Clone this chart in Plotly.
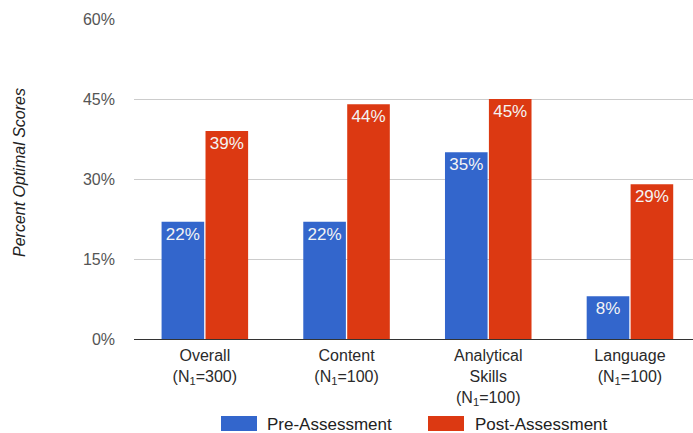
import plotly.graph_objects as go

# Chart data
categories = [
    "Overall<br>(N<sub>1</sub>=300)",
    "Content<br>(N<sub>1</sub>=100)",
    "Analytical<br>Skills<br>(N<sub>1</sub>=100)",
    "Language<br>(N<sub>1</sub>=100)",
]
pre_assessment = [22, 22, 35, 8]
post_assessment = [39, 44, 45, 29]
y_ticks = [0, 15, 30, 45, 60]
y_tick_labels = ["0%", "15%", "30%", "45%", "60%"]
series_names = ["Pre-Assessment", "Post-Assessment"]
y_title = "Percent Optimal Scores"

BLUE = "#3366CC"
RED = "#DC3912"
FONT = "Liberation Sans, Arial, sans-serif"

W, H = 693, 433
ML, MR, MT, MB = 134, 0, 19, 94
PW, PH = W - ML - MR, H - MT - MB


def px_x(x):
    return (x - ML) / PW


def px_y(y):
    return (H - MB - y) / PH


fig = go.Figure()
for name, vals, color in zip(series_names, [pre_assessment, post_assessment], [BLUE, RED]):
    fig.add_trace(go.Bar(
        name=name,
        x=list(range(len(categories))),
        y=vals,
        marker=dict(color=color, line=dict(width=0)),
        text=[f"{v}%" for v in vals],
        textposition="inside",
        insidetextanchor="end",
        textangle=0,
        constraintext="none",
        textfont=dict(family=FONT, size=17, color="#f4f4f4"),
        showlegend=False,
    ))

fig.update_layout(
    width=W, height=H,
    margin=dict(l=ML, r=MR, t=MT, b=MB, pad=0),
    paper_bgcolor="white", plot_bgcolor="white",
    barmode="group", bargap=0.38, bargroupgap=0.03,
    font=dict(family=FONT),
    showlegend=False,
)

fig.update_xaxes(
    tickmode="array",
    tickvals=list(range(len(categories))),
    ticktext=categories,
    range=[-0.5, -0.5 + PW / 141.7],
    tickfont=dict(family=FONT, size=16, color="#2a2a2a"),
    showgrid=False, zeroline=False, showline=False,
    ticks="", ticklabelstandoff=5,
)

fig.update_yaxes(
    range=[0, 60],
    tickmode="array",
    tickvals=y_ticks,
    ticktext=y_tick_labels,
    tickfont=dict(family=FONT, size=16, color="#555555"),
    showgrid=True, gridcolor="#cccccc", gridwidth=1,
    zeroline=True, zerolinecolor="#333333", zerolinewidth=1,
    showline=False, ticks="", ticklabelstandoff=18,
)

# Rotated axis title
fig.add_annotation(
    xref="paper", yref="paper", x=px_x(19), y=px_y(173),
    xanchor="center", yanchor="middle", showarrow=False, textangle=-90,
    text=f"<i>{y_title}</i>", font=dict(family=FONT, size=16, color="#222222"),
)

# Legend drawn as wide colour swatches with labels
legend_items = [(221, 265, BLUE, series_names[0]), (428, 473, RED, series_names[1])]
for sx, tx, color, label in legend_items:
    fig.add_shape(
        type="rect", xref="paper", yref="paper",
        x0=px_x(sx), x1=px_x(sx + 36), y0=px_y(431), y1=px_y(416),
        fillcolor=color, line=dict(width=0), layer="above",
    )
    fig.add_annotation(
        xref="paper", yref="paper", x=px_x(tx), y=px_y(424),
        xanchor="left", yanchor="middle", showarrow=False,
        text=label, font=dict(family=FONT, size=17, color="#222222"),
    )

fig.write_html("out.html")
